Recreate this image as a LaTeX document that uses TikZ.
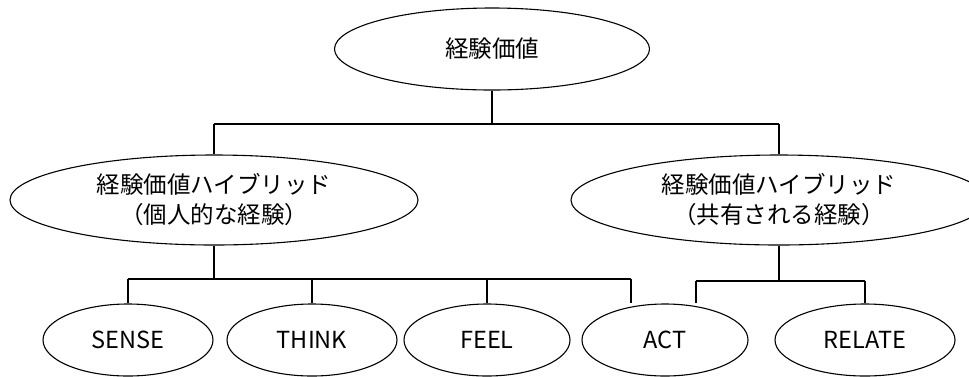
\documentclass[tikz,border=0pt]{standalone}
\usepackage{fontspec}
\setmainfont{Noto Sans CJK JP}
\usetikzlibrary{shapes.geometric}
\begin{document}
\begin{tikzpicture}[x=1pt,y=-1pt,
  oval/.style={draw,ellipse,line width=1.1pt,inner sep=0pt,align=center,
    font=\fontsize{23.5}{30}\selectfont},
  wire/.style={line width=1.1pt}]
\useasboundingbox (0,0) rectangle (969,376);
\node[oval,minimum width=315pt,minimum height=82pt] (top) at (492,49) {経験価値};
\node[oval,minimum width=408pt,minimum height=90pt] (L) at (214,200) {経験価値ハイブリッド\\（個人的な経験）};
\node[oval,minimum width=416pt,minimum height=90pt] (R) at (779,200) {経験価値ハイブリッド\\（共有される経験）};
\node[oval,minimum width=170pt,minimum height=72pt] (SENSE) at (128,340) {SENSE};
\node[oval,minimum width=170pt,minimum height=72pt] (THINK) at (312,340) {THINK};
\node[oval,minimum width=166pt,minimum height=72pt] (FEEL) at (487,340) {FEEL};
\node[oval,minimum width=166pt,minimum height=72pt] (ACT) at (665,340) {ACT};
\node[oval,minimum width=180pt,minimum height=72pt] (RELATE) at (865,340) {RELATE};
\coordinate (j0) at (492,124);
\coordinate (kL) at (214,279);
\coordinate (aL) at (631,279);
\coordinate (kR) at (779,281);
\coordinate (aR) at (696,281);
\draw[wire] (top.south) -- (j0);
\draw[wire] (j0 -| L.north) -- (j0 -| R.north);
\draw[wire] (j0 -| L.north) -- (L.north);
\draw[wire] (j0 -| R.north) -- (R.north);
\draw[wire] (L.south) -- (kL);
\draw[wire] (kL -| SENSE.north) -- (aL);
\draw[wire] (kL -| SENSE.north) -- (SENSE.north);
\draw[wire] (kL -| THINK.north) -- (THINK.north);
\draw[wire] (kL -| FEEL.north) -- (FEEL.north);
\draw[wire] (aL) -- (aL |- ACT.north);
\draw[wire] (R.south) -- (kR);
\draw[wire] (aR) -- (kR -| RELATE.north);
\draw[wire] (aR) -- (aR |- ACT.north);
\draw[wire] (kR -| RELATE.north) -- (RELATE.north);
\end{tikzpicture}
\end{document}
